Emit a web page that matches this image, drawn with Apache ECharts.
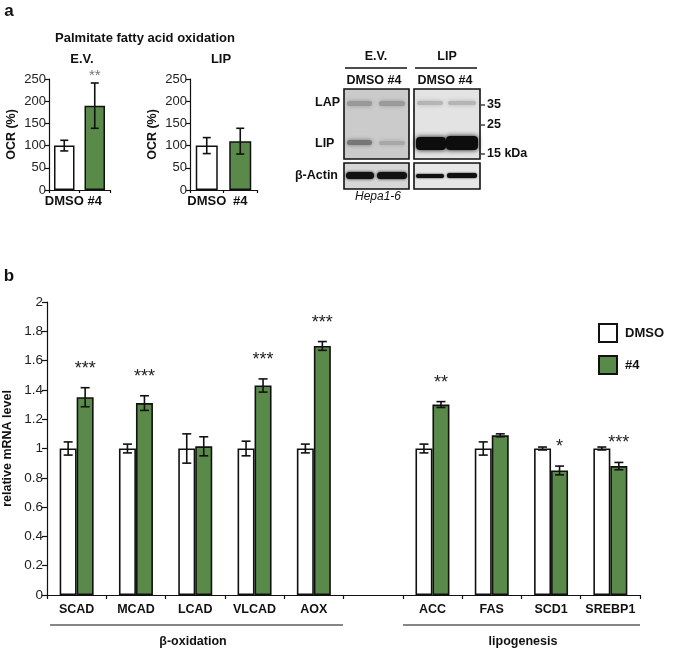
<!DOCTYPE html>
<html><head><meta charset="utf-8">
<script src="https://cdn.jsdelivr.net/npm/echarts@6/dist/echarts.min.js"></script>
<style>html,body{margin:0;padding:0;background:#fff}#c{width:685px;height:649px}</style>
</head><body><div id="c"></div>
<script>
// ---------- Panel a data ----------
const aCategories = ['DMSO', '#4'];
const aEV = [100, 190];
const aEVErr = [12, 51];
const aEVSig = ['', '**'];
const aLIP = [100, 110];
const aLIPErr = [18, 29];
const aLIPSig = ['', ''];
const aTicks = [0, 50, 100, 150, 200, 250];
// ---------- Panel b data ----------
const bCategories = ['SCAD','MCAD','LCAD','VLCAD','AOX','','ACC','FAS','SCD1','SREBP1'];
const bDMSO    = [1, 1, 1, 1, 1, null, 1, 1, 1, 1];
const bDMSOErr = [0.045, 0.03, 0.1, 0.05, 0.03, null, 0.03, 0.045, 0.01, 0.01];
const b4       = [1.35, 1.31, 1.015, 1.43, 1.70, null, 1.30, 1.09, 0.85, 0.88];
const b4Err    = [0.065, 0.05, 0.065, 0.045, 0.03, null, 0.02, 0.01, 0.03, 0.025];
const bSig     = ['***','***','','***','***','','**','','*','***'];
const bTicks   = [0, 0.2, 0.4, 0.6, 0.8, 1, 1.2, 1.4, 1.6, 1.8, 2];

const FONT = '"Liberation Sans", Arial, Helvetica, sans-serif';
const GREEN = '#5a8a4a';
const INK = '#111';
const BW = 17; // panel b bar width (px)

const chart = echarts.init(document.getElementById('c'), null, {renderer: 'canvas'});

function errSeries(name, xi, yi, vals, errs, sig, offset, capW, starFont, starColor, starGap) {
  const data = vals.map((v, i) => [i, v, errs[i]]).filter(d => d[1] != null);
  return {
    type: 'custom', name: name, xAxisIndex: xi, yAxisIndex: yi, z: 10, silent: true,
    data: data,
    renderItem: function (params, api) {
      const i = api.value(0), v = api.value(1), e = api.value(2);
      const x = api.coord([i, v])[0] + offset;
      const top = api.coord([i, v + e])[1];
      const bot = api.coord([i, v - e])[1];
      const st = {stroke: INK, lineWidth: 1.6};
      const ch = [
        {type: 'line', shape: {x1: x, y1: top, x2: x, y2: bot}, style: st},
        {type: 'line', shape: {x1: x - capW / 2, y1: top, x2: x + capW / 2, y2: top}, style: st},
        {type: 'line', shape: {x1: x - capW / 2, y1: bot, x2: x + capW / 2, y2: bot}, style: st}
      ];
      if (sig && sig[i]) {
        ch.push({type: 'text', style: {text: sig[i], x: x, y: top - starGap, align: 'center', verticalAlign: 'bottom',
          textAlign: 'center', textVerticalAlign: 'bottom', fill: starColor, font: starFont}});
      }
      return {type: 'group', children: ch};
    }
  };
}

function txt(text, x, y, opts) {
  opts = opts || {};
  return {type: 'text', x: x, y: y, silent: true, z: 20, rotation: opts.rot || 0,
    style: {text: text, fill: opts.fill || INK,
      font: (opts.italic ? 'italic ' : '') + (opts.weight || 'bold') + ' ' + (opts.size || 12.5) + 'px ' + FONT,
      align: opts.align || 'center', verticalAlign: 'middle',
      textAlign: opts.align || 'center', textVerticalAlign: 'middle'}};
}
function ln(x1, y1, x2, y2, w) {
  return {type: 'line', silent: true, z: 20, shape: {x1: x1, y1: y1, x2: x2, y2: y2}, style: {stroke: INK, lineWidth: w || 1.3}};
}
function box(x, y, w, h, fill) {
  return {type: 'rect', silent: true, z: 5, shape: {x: x, y: y, width: w, height: h}, style: {fill: fill, stroke: INK, lineWidth: 1.6}};
}
function band(x, y, w, h, fill, blur) {
  return {type: 'rect', silent: true, z: 6, shape: {x: x, y: y, width: w, height: h, r: Math.min(h / 2, 4)},
    style: {fill: fill, shadowBlur: blur == null ? 3 : blur, shadowColor: fill}};
}

const smallYAxis = (name) => ({
  type: 'value', min: aTicks[0], max: aTicks[aTicks.length - 1], interval: aTicks[1] - aTicks[0],
  name: name, nameLocation: 'middle', nameGap: 31, nameRotate: 90,
  nameTextStyle: {fontFamily: FONT, fontWeight: 'bold', fontSize: 12.5, color: INK},
  axisLine: {show: true, lineStyle: {color: INK, width: 1.2}},
  axisTick: {show: true, length: 4, lineStyle: {color: INK, width: 1.2}},
  axisLabel: {fontFamily: FONT, fontSize: 13, color: '#222', margin: 3},
  splitLine: {show: false}
});
const smallXAxis = () => ({
  type: 'category', data: aCategories,
  axisLine: {show: true, lineStyle: {color: INK, width: 1.2}},
  axisTick: {show: true, length: 3, lineStyle: {color: INK, width: 1.2}},
  axisLabel: {interval: 0, fontFamily: FONT, fontWeight: 'bold', fontSize: 13, color: INK, margin: 5}
});

const barItems = (vals) => vals.map((v, i) => ({value: v, itemStyle: {color: i === 0 ? '#fff' : GREEN}}));

const option = {
  animation: false,
  backgroundColor: '#fff',
  textStyle: {fontFamily: FONT},
  grid: [
    {left: 49, top: 79, width: 61, height: 111, outerBoundsMode: 'none', containLabel: false},
    {left: 190, top: 79, width: 67, height: 111, outerBoundsMode: 'none', containLabel: false},
    {left: 47, top: 302, width: 593, height: 293, outerBoundsMode: 'none', containLabel: false}
  ],
  xAxis: [
    Object.assign(smallXAxis(), {gridIndex: 0}),
    Object.assign(smallXAxis(), {gridIndex: 1}),
    {
      gridIndex: 2, type: 'category', data: bCategories,
      axisLine: {show: true, lineStyle: {color: INK, width: 1.2}},
      axisTick: {show: true, length: 4, interval: 0, lineStyle: {color: INK, width: 1.2}},
      axisLabel: {interval: 0, fontFamily: FONT, fontWeight: 'bold', fontSize: 12.5, color: INK, margin: 8}
    }
  ],
  yAxis: [
    Object.assign(smallYAxis('OCR (%)'), {gridIndex: 0}),
    Object.assign(smallYAxis('OCR (%)'), {gridIndex: 1}),
    {
      gridIndex: 2, type: 'value', min: bTicks[0], max: bTicks[bTicks.length - 1], interval: bTicks[1] - bTicks[0],
      name: 'relative mRNA level', nameLocation: 'middle', nameGap: 33, nameRotate: 90, nameMoveOverlap: false,
      nameTextStyle: {fontFamily: FONT, fontWeight: 'bold', fontSize: 12.5, color: INK},
      axisLine: {show: true, lineStyle: {color: INK, width: 1.2}},
      axisTick: {show: true, length: 5, lineStyle: {color: INK, width: 1.2}},
      axisLabel: {fontFamily: FONT, fontSize: 13.5, color: '#222', margin: 4,
        formatter: v => String(Math.round(v * 10) / 10)},
      splitLine: {show: false}
    }
  ],
  legend: {
    data: ['DMSO', '#4'], orient: 'vertical', left: 593, top: 318,
    itemWidth: 18, itemHeight: 18, itemGap: 12, icon: 'rect', selectedMode: false,
    textStyle: {fontFamily: FONT, fontWeight: 'bold', fontSize: 13, color: INK, padding: [0, 0, 0, 3]}
  },
  series: [
    {type: 'bar', name: 'a-EV', xAxisIndex: 0, yAxisIndex: 0, barWidth: 20.5, data: barItems(aEV),
      itemStyle: {borderColor: INK, borderWidth: 1.5}},
    errSeries('a-EV-err', 0, 0, aEV, aEVErr, aEVSig, 0, 8, 'normal 15px ' + FONT, '#777', 0),
    {type: 'bar', name: 'a-LIP', xAxisIndex: 1, yAxisIndex: 1, barWidth: 22, data: barItems(aLIP),
      itemStyle: {borderColor: INK, borderWidth: 1.5}},
    errSeries('a-LIP-err', 1, 1, aLIP, aLIPErr, aLIPSig, 0, 8, 'normal 15px ' + FONT, '#777', 0),
    {type: 'bar', name: 'DMSO', xAxisIndex: 2, yAxisIndex: 2, barWidth: BW, barGap: '0%', data: bDMSO,
      itemStyle: {color: '#fff', borderColor: INK, borderWidth: 1.6}},
    {type: 'bar', name: '#4', xAxisIndex: 2, yAxisIndex: 2, barWidth: BW, barGap: '0%', data: b4,
      itemStyle: {color: GREEN, borderColor: INK, borderWidth: 1.6}},
    errSeries('b-DMSO-err', 2, 2, bDMSO, bDMSOErr, null, -BW / 2, 9, '', INK, 0),
    errSeries('b-4-err', 2, 2, b4, b4Err, bSig, BW / 2, 9, 'normal 18px ' + FONT, '#222', 10)
  ],
  graphic: [
    // panel letters
    txt('a', 9, 11, {size: 17}),
    txt('b', 9, 276, {size: 17}),
    // panel a titles
    txt('Palmitate fatty acid oxidation', 145, 38, {size: 13}),
    txt('E.V.', 82, 59, {size: 13}),
    txt('LIP', 221, 59, {size: 13}),
    // blot header
    txt('E.V.', 376, 57, {size: 12.5}),
    ln(345, 68, 407, 68),
    txt('LIP', 447, 57, {size: 12.5}),
    ln(415, 68, 477, 68),
    txt('DMSO #4', 374, 81, {size: 12.5}),
    txt('DMSO #4', 445, 81, {size: 12.5}),
    // blot boxes
    box(344, 89, 65, 70, '#cbcbcb'),
    box(414, 89, 66, 70, '#e3e3e3'),
    box(344, 163, 65, 26, '#d6d6d6'),
    box(414, 163, 66, 26, '#e6e6e6'),
    // bands
    band(347, 101, 25, 5, '#999', 4),
    band(379, 101, 26, 5, '#9a9a9a', 4),
    band(347, 140, 25, 5, '#777', 4),
    band(379, 141, 26, 4, '#a8a8a8', 4),
    band(417, 101, 26, 4, '#b5b5b5', 4),
    band(448, 101, 28, 4, '#b5b5b5', 4),
    band(416, 137, 30, 13, '#0d0d0d', 5),
    band(446, 136, 32, 14, '#0d0d0d', 5),
    band(346, 172, 28, 7, '#111', 3),
    band(377, 172, 30, 7, '#111', 3),
    band(416, 174, 28, 4, '#111', 2),
    band(447, 173, 30, 5, '#111', 2),
    // blot labels
    txt('LAP', 315, 103, {align: 'left', size: 12.5}),
    txt('LIP', 315, 144, {align: 'left', size: 12.5}),
    txt('\u03b2-Actin', 338, 176, {align: 'right', size: 12.5}),
    ln(481, 105, 485, 105, 1.2), txt('35', 487, 105, {align: 'left', size: 12.5}),
    ln(481, 125, 485, 125, 1.2), txt('25', 487, 125, {align: 'left', size: 12.5}),
    ln(481, 154, 485, 154, 1.2), txt('15 kDa', 487, 154, {align: 'left', size: 12.5}),
    txt('Hepa1-6', 378, 197, {italic: true, weight: 'normal', size: 12}),
    // panel b groups
    ln(50, 625, 343, 625, 1.2),
    txt('\u03b2-oxidation', 193, 642, {size: 12.5}),
    ln(403, 625, 640, 625, 1.2),
    txt('lipogenesis', 523, 642, {size: 12.5})
  ]
};
chart.setOption(option);
</script>
</body></html>
